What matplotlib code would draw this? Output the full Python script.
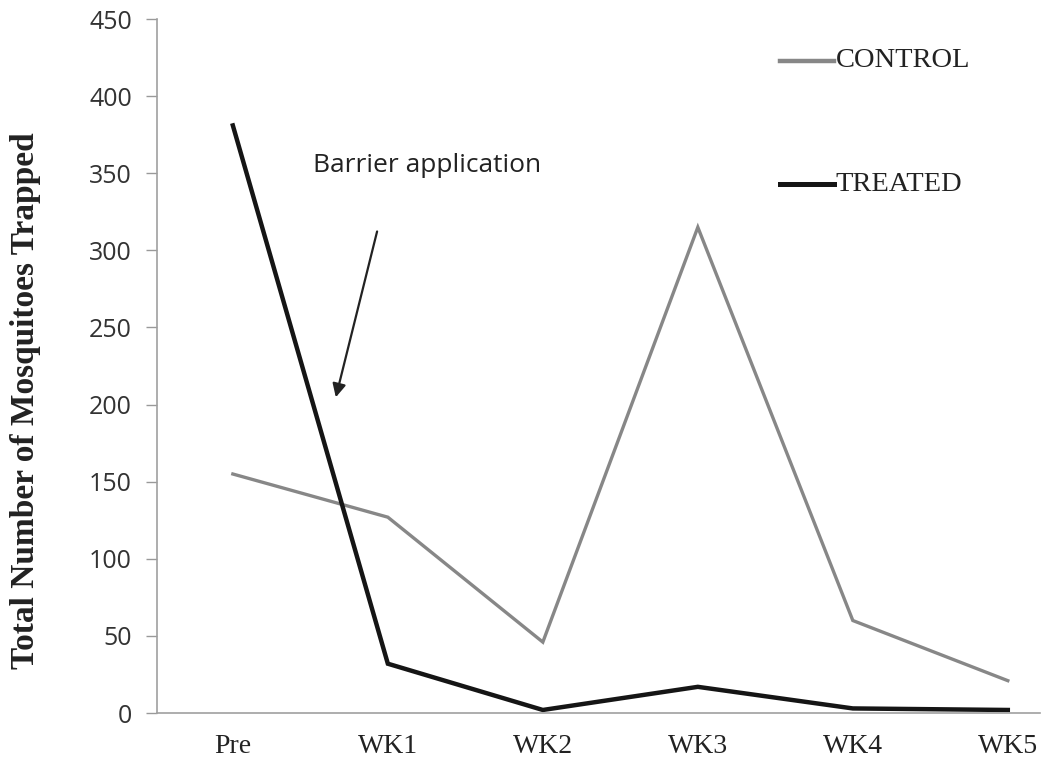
import matplotlib
matplotlib.use("Agg")
import matplotlib.pyplot as plt

categories = ["Pre", "WK1", "WK2", "WK3", "WK4", "WK5"]
control = [155, 127, 46, 315, 60, 21]
treated = [381, 32, 2, 17, 3, 2]
yticks = [0, 50, 100, 150, 200, 250, 300, 350, 400, 450]

fig = plt.figure(figsize=(10.53, 7.61), dpi=100)
ax = fig.add_axes([0.149, 0.063, 0.839, 0.912])
x = list(range(len(categories)))
ax.plot(x, control, color="#878787", lw=2.4, solid_joinstyle="miter")
ax.plot(x, treated, color="#151515", lw=3.2, solid_joinstyle="miter")

ax.set_xlim(-0.49, 5.21)
ax.set_ylim(0, 450)
ax.set_yticks(yticks)
ax.set_yticklabels([str(v) for v in yticks], family="Open Sans", fontsize=18, color="#333333")
ax.set_xticks(x)
ax.set_xticklabels(categories, family="Liberation Serif", fontsize=20, color="#222222")
ax.tick_params(axis="x", length=0, pad=15)
ax.tick_params(axis="y", length=8, width=1, color="#999999", pad=10)
for s in ["top", "right"]:
    ax.spines[s].set_visible(False)
for s in ["left", "bottom"]:
    ax.spines[s].set_color("#a0a0a0")
    ax.spines[s].set_linewidth(1.2)

fig.text(0.024, 0.474, "Total Number of Mosquitoes Trapped", rotation=90,
         ha="center", va="center", family="Liberation Serif", fontweight="bold",
         fontsize=24, color="#222222")

ax.text(0.516, 355, "Barrier application", family="Open Sans", fontsize=19,
        color="#222222", va="center", ha="left")
ax.annotate("", xy=(0.66, 203), xytext=(0.935, 314),
            arrowprops=dict(arrowstyle="-|>", color="#222222", lw=1.6,
                            mutation_scale=20))

# legend
ax.plot([3.53, 3.88], [423, 423], color="#878787", lw=3.2, clip_on=False)
ax.text(3.89, 423, "CONTROL", family="Liberation Serif", fontsize=20.5,
        color="#222222", va="center", ha="left")
ax.plot([3.53, 3.88], [343, 343], color="#151515", lw=3.6, clip_on=False)
ax.text(3.89, 343, "TREATED", family="Liberation Serif", fontsize=20.5,
        color="#222222", va="center", ha="left")

fig.savefig("out.png", dpi=100)
